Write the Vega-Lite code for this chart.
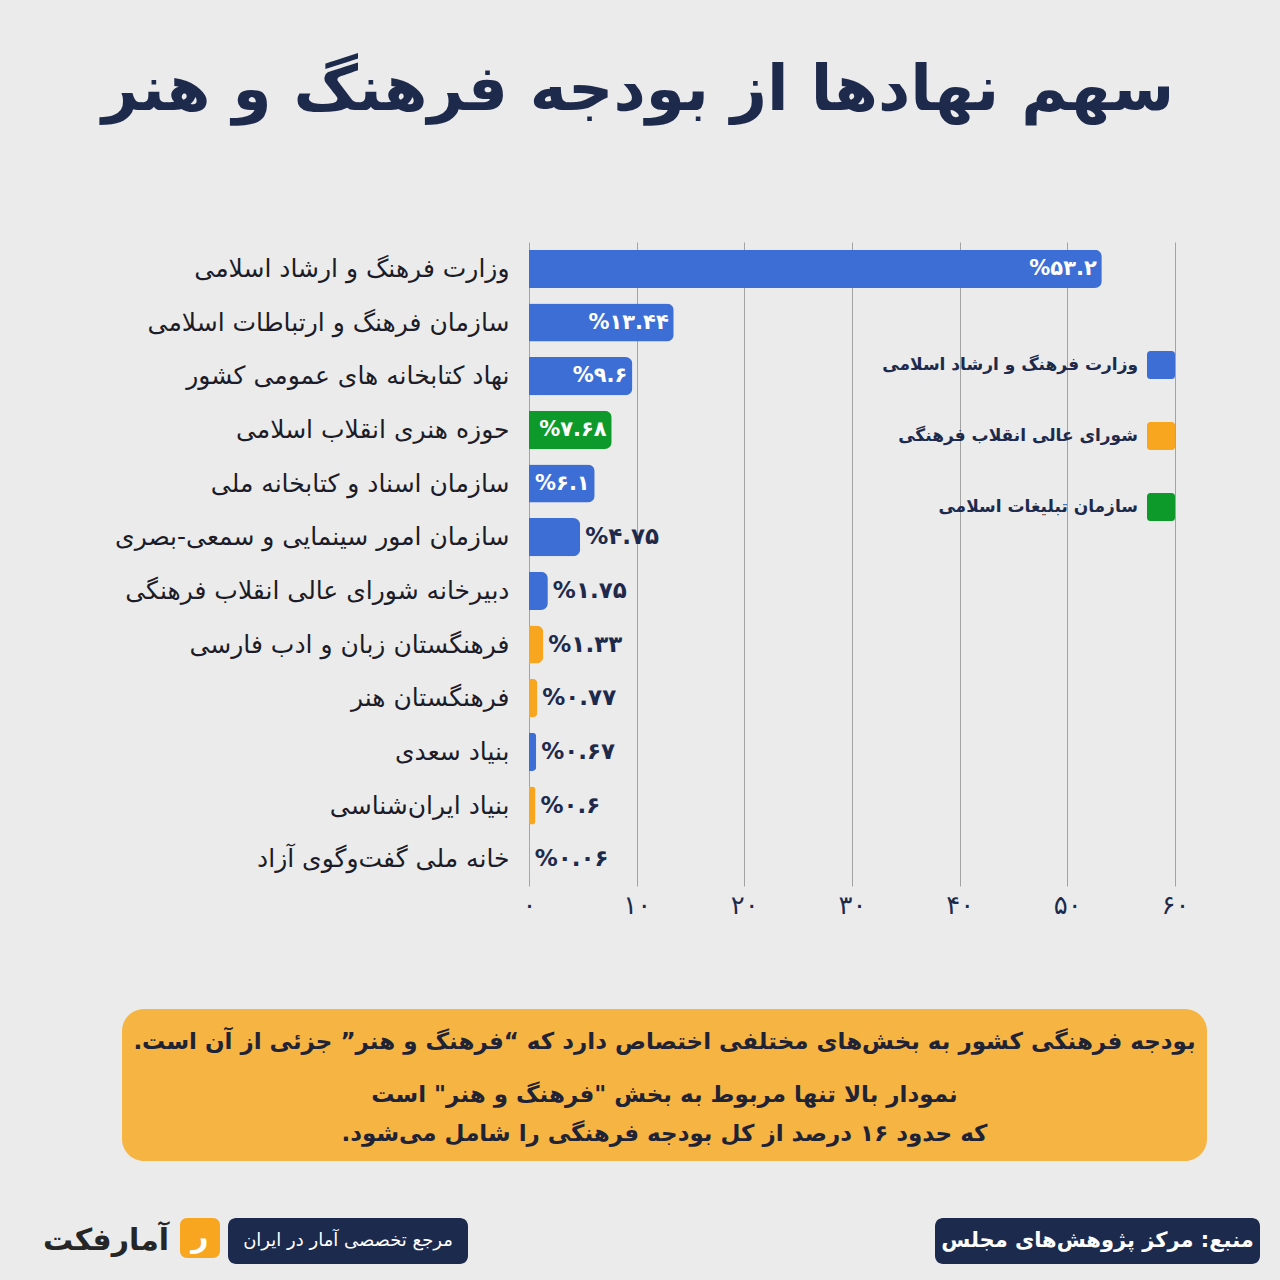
{
  "$schema": "https://vega.github.io/schema/vega-lite/v6.json",
  "background": "#ebebeb",
  "padding": {"left": 40, "right": 20, "top": 60, "bottom": 16},
  "config": {"view": {"stroke": null}, "font": "DejaVu Sans"},
  "title": {"text": "سهم نهادها از بودجه فرهنگ و هنر", "fontSize": 63, "font": "DejaVu Sans", "fontWeight": "bold", "color": "#1e2a4c", "anchor": "middle", "offset": 118, "dx": -12},
  "datasets": {
    "budget": [
      {"org": "وزارت فرهنگ و ارشاد اسلامی", "share": 53.2, "label": "%۵۳.۲", "parent": "وزارت فرهنگ و ارشاد اسلامی"},
      {"org": "سازمان فرهنگ و ارتباطات اسلامی", "share": 13.44, "label": "%۱۳.۴۴", "parent": "وزارت فرهنگ و ارشاد اسلامی"},
      {"org": "نهاد کتابخانه های عمومی کشور", "share": 9.6, "label": "%۹.۶", "parent": "وزارت فرهنگ و ارشاد اسلامی"},
      {"org": "حوزه هنری انقلاب اسلامی", "share": 7.68, "label": "%۷.۶۸", "parent": "سازمان تبلیغات اسلامی"},
      {"org": "سازمان اسناد و کتابخانه ملی", "share": 6.1, "label": "%۶.۱", "parent": "وزارت فرهنگ و ارشاد اسلامی"},
      {"org": "سازمان امور سینمایی و سمعی-بصری", "share": 4.75, "label": "%۴.۷۵", "parent": "وزارت فرهنگ و ارشاد اسلامی"},
      {"org": "دبیرخانه شورای عالی انقلاب فرهنگی", "share": 1.75, "label": "%۱.۷۵", "parent": "وزارت فرهنگ و ارشاد اسلامی"},
      {"org": "فرهنگستان زبان و ادب فارسی", "share": 1.33, "label": "%۱.۳۳", "parent": "شورای عالی انقلاب فرهنگی"},
      {"org": "فرهنگستان هنر", "share": 0.77, "label": "%۰.۷۷", "parent": "شورای عالی انقلاب فرهنگی"},
      {"org": "بنیاد سعدی", "share": 0.67, "label": "%۰.۶۷", "parent": "وزارت فرهنگ و ارشاد اسلامی"},
      {"org": "بنیاد ایران‌شناسی", "share": 0.6, "label": "%۰.۶", "parent": "شورای عالی انقلاب فرهنگی"},
      {"org": "خانه ملی گفت‌وگوی آزاد", "share": 0.06, "label": "%۰.۰۶", "parent": "شورای عالی انقلاب فرهنگی"}
    ]
  },
  "spacing": 20,
  "vconcat": [
    {
      "hconcat": [
        {"width": 481, "height": 10, "data": {"values": [{}]}, "mark": {"type": "text", "text": ""}},
        {
          "width": 646,
          "height": 644,
          "data": {"name": "budget"},
          "encoding": {
            "y": {"field": "org", "type": "nominal", "sort": null,
              "scale": {"paddingInner": 0.29, "paddingOuter": 0.145},
              "axis": {"title": null, "domain": false, "ticks": false, "labelPadding": 20, "labelFontSize": 25, "labelFont": "DejaVu Sans", "labelColor": "#1c1c28", "labelLimit": 600}},
            "x": {"field": "share", "type": "quantitative", "scale": {"domain": [0, 60]},
              "axis": {"title": null, "values": [0, 10, 20, 30, 40, 50, 60], "labelExpr": "['۰','۱۰','۲۰','۳۰','۴۰','۵۰','۶۰'][datum.value/10]", "grid": true, "gridColor": "#a3a3a3", "gridWidth": 1, "domain": false, "ticks": false, "labelPadding": 6, "labelFontSize": 26, "labelFont": "DejaVu Sans", "labelColor": "#1e2a4c", "labelFlush": false, "labelOverlap": false}}
          },
          "layer": [
            {
              "mark": {"type": "bar", "cornerRadiusEnd": 7},
              "encoding": {
                "color": {"field": "parent", "type": "nominal",
                  "scale": {"domain": ["وزارت فرهنگ و ارشاد اسلامی", "شورای عالی انقلاب فرهنگی", "سازمان تبلیغات اسلامی"], "range": ["#3d6ed6", "#f8a620", "#0d9a2a"]},
                  "legend": {"orient": "none", "legendX": 1107, "legendY": 109, "title": null, "direction": "vertical",
                    "symbolType": "M -0.75,-1 L 0.75,-1 Q 1,-1 1,-0.75 L 1,0.75 Q 1,1 0.75,1 L -0.75,1 Q -1,1 -1,0.75 L -1,-0.75 Q -1,-1 -0.75,-1 Z",
                    "symbolSize": 784, "symbolStrokeWidth": 0, "symbolOpacity": 1,
                    "labelAlign": "right", "labelOffset": -37, "labelFontSize": 17, "labelFont": "DejaVu Sans", "labelFontWeight": "bold", "labelColor": "#1e2a4c", "labelLimit": 500,
                    "rowPadding": 43, "padding": 0}}
              }
            },
            {
              "transform": [{"filter": "datum.share >= 6"}],
              "mark": {"type": "text", "align": "right", "baseline": "middle", "dx": -5, "color": "#ffffff", "fontSize": 21, "fontWeight": "bold", "font": "DejaVu Sans"},
              "encoding": {"text": {"field": "label"}}
            },
            {
              "transform": [{"filter": "datum.share < 6"}],
              "mark": {"type": "text", "align": "left", "baseline": "middle", "dx": 5, "color": "#1e2a4c", "fontSize": 23, "fontWeight": "bold", "font": "DejaVu Sans"},
              "encoding": {"text": {"field": "label"}}
            }
          ]
        }
      ],
      "spacing": 8,
      "bounds": "flush"
    },
    {"width": 100, "height": 50, "data": {"values": [{}]}, "mark": {"type": "text", "text": ""}},
    {
      "hconcat": [
        {"width": 74, "height": 10, "data": {"values": [{}]}, "mark": {"type": "text", "text": ""}},
        {
          "width": 1085,
          "height": 152,
          "view": {"fill": "#f6b443", "cornerRadius": 22, "stroke": null},
          "data": {"values": [{}]},
          "layer": [
            {"mark": {"type": "text", "text": "بودجه فرهنگی کشور به بخش‌های مختلفی اختصاص دارد که “فرهنگ و هنر” جزئی از آن است.‏", "fontSize": 23, "fontWeight": "bold", "font": "DejaVu Sans", "color": "#1f2336", "baseline": "middle", "dy": -43}},
            {"mark": {"type": "text", "text": ["نمودار بالا تنها مربوط به بخش \"فرهنگ و هنر\" است", "که حدود ۱۶ درصد  از کل بودجه فرهنگی را شامل می‌شود.‏"], "lineHeight": 39, "fontSize": 23, "fontWeight": "bold", "font": "DejaVu Sans", "color": "#1f2336", "baseline": "middle", "dy": 10}}
          ]
        }
      ],
      "spacing": 8,
      "bounds": "flush"
    },
    {"width": 100, "height": 16, "data": {"values": [{}]}, "mark": {"type": "text", "text": ""}},
    {
      "hconcat": [
        {"width": 132, "height": 46, "data": {"values": [{}]}, "mark": {"type": "text", "text": "آمارفکت", "fontSize": 30, "fontWeight": "bold", "font": "DejaVu Sans", "color": "#262626"}},
        {"width": 40, "height": 40, "view": {"fill": "#f8a620", "cornerRadius": 7, "stroke": null}, "data": {"values": [{}]}, "mark": {"type": "text", "text": "ر", "fontSize": 30, "fontWeight": "bold", "font": "DejaVu Sans", "color": "#ffffff"}},
        {"width": 240, "height": 46, "view": {"fill": "#1c2a4e", "cornerRadius": 8, "stroke": null}, "data": {"values": [{}]}, "mark": {"type": "text", "text": "مرجع تخصصی آمار در ایران", "fontSize": 18, "font": "DejaVu Sans", "color": "#ffffff"}},
        {"width": 451, "height": 10, "data": {"values": [{}]}, "mark": {"type": "text", "text": ""}},
        {"width": 325, "height": 46, "view": {"fill": "#1c2a4e", "cornerRadius": 8, "stroke": null}, "data": {"values": [{}]}, "mark": {"type": "text", "text": "منبع: مرکز پژوهش‌های مجلس", "fontSize": 21, "fontWeight": "bold", "font": "DejaVu Sans", "color": "#ffffff"}}
      ],
      "spacing": 8,
      "bounds": "flush"
    }
  ]
}
